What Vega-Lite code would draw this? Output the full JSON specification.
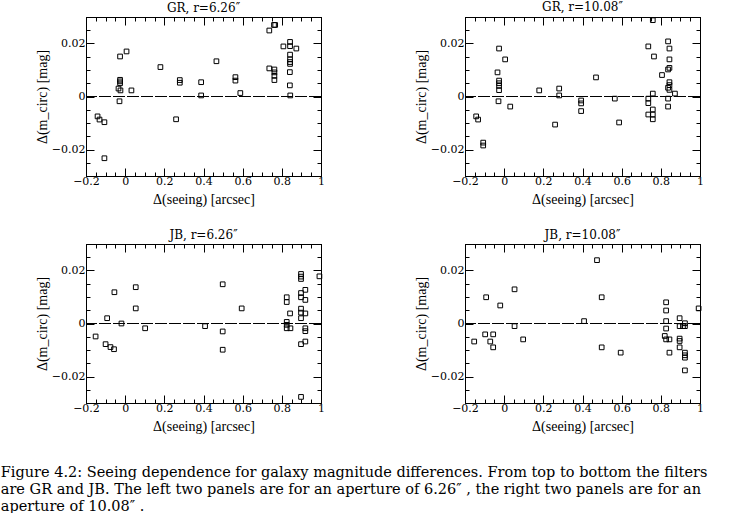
{
  "$schema": "https://vega.github.io/schema/vega-lite/v6.json",
  "padding": {"left": 0, "top": 0, "right": 0, "bottom": 0},
  "background": "white",
  "config": {
    "font": "DejaVu Serif",
    "view": {"stroke": "black", "strokeWidth": 1},
    "axis": {"grid": false, "domainColor": "black", "tickColor": "black", "labelColor": "black", "titleColor": "black", "labelFont": "DejaVu Serif", "labelFontSize": 11, "titleFont": "Liberation Serif", "titleFontSize": 14, "titleFontWeight": "normal"},
    "title": {"font": "DejaVu Serif", "fontSize": 12, "fontWeight": "normal", "color": "black", "offset": 2}
  },
  "datasets": {
    "pts": [
      {"p": "a", "x": -0.141, "y": -0.0075}, {"p": "a", "x": -0.131, "y": -0.0087}, {"p": "a", "x": -0.106, "y": -0.0097}, {"p": "a", "x": -0.106, "y": -0.0233},
      {"p": "a", "x": -0.026, "y": 0.0151}, {"p": "a", "x": 0.007, "y": 0.017}, {"p": "a", "x": -0.026, "y": 0.0063}, {"p": "a", "x": -0.026, "y": 0.0057}, {"p": "a", "x": -0.026, "y": 0.005},
      {"p": "a", "x": -0.034, "y": 0.003}, {"p": "a", "x": -0.024, "y": 0.0023}, {"p": "a", "x": 0.032, "y": 0.0023}, {"p": "a", "x": -0.029, "y": -0.0018},
      {"p": "a", "x": 0.18, "y": 0.0111}, {"p": "a", "x": 0.279, "y": 0.0062}, {"p": "a", "x": 0.279, "y": 0.0052}, {"p": "a", "x": 0.26, "y": -0.0086},
      {"p": "a", "x": 0.388, "y": 0.0054}, {"p": "a", "x": 0.388, "y": 0.0004}, {"p": "a", "x": 0.466, "y": 0.0133}, {"p": "a", "x": 0.563, "y": 0.0073}, {"p": "a", "x": 0.563, "y": 0.006},
      {"p": "a", "x": 0.588, "y": 0.0013}, {"p": "a", "x": 0.736, "y": 0.0249}, {"p": "a", "x": 0.76, "y": 0.027}, {"p": "a", "x": 0.766, "y": 0.027},
      {"p": "a", "x": 0.736, "y": 0.0106}, {"p": "a", "x": 0.762, "y": 0.0102}, {"p": "a", "x": 0.762, "y": 0.0091}, {"p": "a", "x": 0.762, "y": 0.0078}, {"p": "a", "x": 0.762, "y": 0.0062},
      {"p": "a", "x": 0.808, "y": 0.0189}, {"p": "a", "x": 0.842, "y": 0.0206}, {"p": "a", "x": 0.842, "y": 0.019}, {"p": "a", "x": 0.874, "y": 0.0181}, {"p": "a", "x": 0.842, "y": 0.0158},
      {"p": "a", "x": 0.842, "y": 0.014}, {"p": "a", "x": 0.842, "y": 0.013}, {"p": "a", "x": 0.842, "y": 0.0123}, {"p": "a", "x": 0.841, "y": 0.0092}, {"p": "a", "x": 0.841, "y": 0.0042}, {"p": "a", "x": 0.843, "y": 0.0004},

      {"p": "b", "x": -0.143, "y": -0.0075}, {"p": "b", "x": -0.133, "y": -0.0087}, {"p": "b", "x": -0.107, "y": -0.0174}, {"p": "b", "x": -0.107, "y": -0.0185},
      {"p": "b", "x": -0.026, "y": 0.0181}, {"p": "b", "x": 0.005, "y": 0.014}, {"p": "b", "x": -0.034, "y": 0.0091}, {"p": "b", "x": -0.026, "y": 0.006}, {"p": "b", "x": -0.026, "y": 0.005},
      {"p": "b", "x": -0.026, "y": 0.004}, {"p": "b", "x": -0.026, "y": 0.0024}, {"p": "b", "x": -0.029, "y": -0.0018}, {"p": "b", "x": 0.031, "y": -0.0038},
      {"p": "b", "x": 0.179, "y": 0.0023}, {"p": "b", "x": 0.281, "y": 0.003}, {"p": "b", "x": 0.281, "y": 0.0004}, {"p": "b", "x": 0.26, "y": -0.0106},
      {"p": "b", "x": 0.393, "y": -0.0015}, {"p": "b", "x": 0.393, "y": -0.0026}, {"p": "b", "x": 0.393, "y": -0.0055}, {"p": "b", "x": 0.469, "y": 0.0072},
      {"p": "b", "x": 0.565, "y": -0.0008}, {"p": "b", "x": 0.587, "y": -0.0098}, {"p": "b", "x": 0.736, "y": 0.0189}, {"p": "b", "x": 0.759, "y": 0.0288}, {"p": "b", "x": 0.765, "y": 0.0151},
      {"p": "b", "x": 0.759, "y": 0.0011}, {"p": "b", "x": 0.736, "y": -0.0008}, {"p": "b", "x": 0.736, "y": -0.0025}, {"p": "b", "x": 0.736, "y": -0.0068},
      {"p": "b", "x": 0.759, "y": -0.0049}, {"p": "b", "x": 0.759, "y": -0.0068}, {"p": "b", "x": 0.759, "y": -0.0086},
      {"p": "b", "x": 0.837, "y": 0.0208}, {"p": "b", "x": 0.844, "y": 0.0181}, {"p": "b", "x": 0.844, "y": 0.014}, {"p": "b", "x": 0.844, "y": 0.0108}, {"p": "b", "x": 0.837, "y": 0.0102},
      {"p": "b", "x": 0.806, "y": 0.0081}, {"p": "b", "x": 0.844, "y": 0.0054}, {"p": "b", "x": 0.844, "y": 0.0043}, {"p": "b", "x": 0.837, "y": 0.0033}, {"p": "b", "x": 0.844, "y": 0.0025},
      {"p": "b", "x": 0.837, "y": -0.0008}, {"p": "b", "x": 0.837, "y": -0.0038}, {"p": "b", "x": 0.872, "y": 0.0011},

      {"p": "c", "x": -0.151, "y": -0.0049}, {"p": "c", "x": -0.1, "y": -0.0078}, {"p": "c", "x": -0.075, "y": -0.0089}, {"p": "c", "x": -0.057, "y": -0.0097},
      {"p": "c", "x": -0.092, "y": 0.002}, {"p": "c", "x": -0.055, "y": 0.0118}, {"p": "c", "x": -0.019, "y": 0.0}, {"p": "c", "x": 0.054, "y": 0.0137}, {"p": "c", "x": 0.054, "y": 0.0057},
      {"p": "c", "x": 0.102, "y": -0.0018}, {"p": "c", "x": 0.408, "y": -0.001}, {"p": "c", "x": 0.498, "y": 0.0148}, {"p": "c", "x": 0.498, "y": -0.003}, {"p": "c", "x": 0.498, "y": -0.0099},
      {"p": "c", "x": 0.595, "y": 0.0057}, {"p": "c", "x": 0.825, "y": 0.0099}, {"p": "c", "x": 0.825, "y": 0.0081}, {"p": "c", "x": 0.842, "y": 0.0038},
      {"p": "c", "x": 0.825, "y": 0.0006}, {"p": "c", "x": 0.825, "y": -0.0005}, {"p": "c", "x": 0.825, "y": -0.0018}, {"p": "c", "x": 0.844, "y": -0.0018},
      {"p": "c", "x": 0.898, "y": 0.0187}, {"p": "c", "x": 0.898, "y": 0.0177}, {"p": "c", "x": 0.898, "y": 0.0168}, {"p": "c", "x": 0.992, "y": 0.0178},
      {"p": "c", "x": 0.92, "y": 0.0127}, {"p": "c", "x": 0.898, "y": 0.0115}, {"p": "c", "x": 0.898, "y": 0.0099}, {"p": "c", "x": 0.92, "y": 0.0089},
      {"p": "c", "x": 0.898, "y": 0.0056}, {"p": "c", "x": 0.898, "y": 0.0041}, {"p": "c", "x": 0.898, "y": 0.002}, {"p": "c", "x": 0.92, "y": 0.0038},
      {"p": "c", "x": 0.92, "y": -0.0018}, {"p": "c", "x": 0.92, "y": -0.0029}, {"p": "c", "x": 0.92, "y": -0.0068}, {"p": "c", "x": 0.898, "y": -0.0078}, {"p": "c", "x": 0.898, "y": -0.0277},

      {"p": "d", "x": 0.474, "y": 0.0239}, {"p": "d", "x": 0.053, "y": 0.0129}, {"p": "d", "x": -0.092, "y": 0.0099}, {"p": "d", "x": 0.498, "y": 0.0099}, {"p": "d", "x": -0.02, "y": 0.0068},
      {"p": "d", "x": 0.053, "y": -0.001}, {"p": "d", "x": 0.097, "y": -0.006}, {"p": "d", "x": 0.408, "y": 0.0009}, {"p": "d", "x": 0.498, "y": -0.009}, {"p": "d", "x": 0.595, "y": -0.011},
      {"p": "d", "x": -0.153, "y": -0.0068}, {"p": "d", "x": -0.097, "y": -0.0041}, {"p": "d", "x": -0.056, "y": -0.0041}, {"p": "d", "x": -0.071, "y": -0.0068}, {"p": "d", "x": -0.056, "y": -0.009},
      {"p": "d", "x": 0.827, "y": 0.008}, {"p": "d", "x": 0.827, "y": 0.0049}, {"p": "d", "x": 0.827, "y": 0.0009}, {"p": "d", "x": 0.827, "y": -0.0019}, {"p": "d", "x": 0.82, "y": -0.0047},
      {"p": "d", "x": 0.827, "y": -0.006}, {"p": "d", "x": 0.844, "y": -0.006}, {"p": "d", "x": 0.844, "y": -0.011},
      {"p": "d", "x": 0.896, "y": 0.002}, {"p": "d", "x": 0.896, "y": -0.001}, {"p": "d", "x": 0.913, "y": -0.001}, {"p": "d", "x": 0.923, "y": 0.0001}, {"p": "d", "x": 0.923, "y": -0.001},
      {"p": "d", "x": 0.896, "y": -0.0057}, {"p": "d", "x": 0.896, "y": -0.0066}, {"p": "d", "x": 0.896, "y": -0.009},
      {"p": "d", "x": 0.923, "y": -0.011}, {"p": "d", "x": 0.923, "y": -0.012}, {"p": "d", "x": 0.923, "y": -0.0129}, {"p": "d", "x": 0.923, "y": -0.0177}, {"p": "d", "x": 0.993, "y": 0.0057}
    ]
  },
  "title": {
    "text": [
      "Figure 4.2: Seeing dependence for galaxy magnitude differences. From top to bottom the filters",
      "are GR and JB. The left two panels are for an aperture of 6.26″ , the right two panels are for an",
      "aperture of 10.08″ ."
    ],
    "orient": "bottom", "anchor": "start", "font": "DejaVu Serif", "fontSize": 14.5, "lineHeight": 17, "offset": 32, "dx": -34, "frame": "bounds"
  },
  "columns": 2,
  "spacing": {"column": 144, "row": 68},
  "bounds": "flush",
  "concat": [
    {
      "title": "GR, r=6.26″",
      "width": 235, "height": 159,
      "data": {"name": "pts"},
      "transform": [{"filter": "datum.p == 'a'"}],
      "layer": [
        {"mark": {"type": "rule", "color": "black", "strokeDash": [12, 2], "strokeWidth": 1},
         "encoding": {"y": {"datum": 0, "type": "quantitative", "scale": {"domain": [-0.03, 0.03], "nice": false}, "axis": null}}},
        {"mark": {"type": "point", "shape": "square", "filled": false, "color": "black", "opacity": 1, "size": 22, "strokeWidth": 1},
         "encoding": {
           "x": {"field": "x", "type": "quantitative", "scale": {"domain": [-0.2, 1], "nice": false, "zero": false},
                 "axis": {"orient": "bottom", "title": "Δ(seeing) [arcsec]", "values": [-0.2,-0.15,-0.1,-0.05,0,0.05,0.1,0.15,0.2,0.25,0.3,0.35,0.4,0.45,0.5,0.55,0.6,0.65,0.7,0.75,0.8,0.85,0.9,0.95,1], "labelExpr": "round(datum.value*100) % 20 == 0 ? format(datum.value, '.1~f') : ''", "tickSize": {"condition": {"test": "round(datum.value*100) % 20 == 0", "value": -8}, "value": -4}, "labelPadding": 7, "labelFlush": false, "titlePadding": 6}},
           "y": {"field": "y", "type": "quantitative", "scale": {"domain": [-0.03, 0.03], "nice": false},
                 "axis": {"orient": "left", "title": "Δ(m_circ) [mag]", "values": [-0.03,-0.025,-0.02,-0.015,-0.01,-0.005,0,0.005,0.01,0.015,0.02,0.025,0.03], "labelExpr": "round(datum.value*1000) % 20 == 0 ? format(datum.value, '.2~f') : ''", "tickSize": {"condition": {"test": "round(datum.value*1000) % 20 == 0", "value": -8}, "value": -4}, "labelPadding": 9, "titlePadding": 2}}
         }},
        {"mark": {"type": "point", "opacity": 0},
         "encoding": {
           "x": {"field": "x", "type": "quantitative", "axis": {"orient": "top", "labels": false, "title": null, "values": [-0.2,-0.15,-0.1,-0.05,0,0.05,0.1,0.15,0.2,0.25,0.3,0.35,0.4,0.45,0.5,0.55,0.6,0.65,0.7,0.75,0.8,0.85,0.9,0.95,1], "tickSize": {"condition": {"test": "round(datum.value*100) % 20 == 0", "value": -8}, "value": -4}}},
           "y": {"field": "y", "type": "quantitative", "axis": {"orient": "right", "labels": false, "title": null, "values": [-0.03,-0.025,-0.02,-0.015,-0.01,-0.005,0,0.005,0.01,0.015,0.02,0.025,0.03], "tickSize": {"condition": {"test": "round(datum.value*1000) % 20 == 0", "value": -8}, "value": -4}}}
         }}
      ],
      "resolve": {"axis": {"x": "independent", "y": "independent"}}
    },
    {
      "title": "GR, r=10.08″",
      "width": 235, "height": 159,
      "data": {"name": "pts"},
      "transform": [{"filter": "datum.p == 'b'"}],
      "layer": [
        {"mark": {"type": "rule", "color": "black", "strokeDash": [12, 2], "strokeWidth": 1},
         "encoding": {"y": {"datum": 0, "type": "quantitative", "scale": {"domain": [-0.03, 0.03], "nice": false}, "axis": null}}},
        {"mark": {"type": "point", "shape": "square", "filled": false, "color": "black", "opacity": 1, "size": 22, "strokeWidth": 1},
         "encoding": {
           "x": {"field": "x", "type": "quantitative", "scale": {"domain": [-0.2, 1], "nice": false, "zero": false},
                 "axis": {"orient": "bottom", "title": "Δ(seeing) [arcsec]", "values": [-0.2,-0.15,-0.1,-0.05,0,0.05,0.1,0.15,0.2,0.25,0.3,0.35,0.4,0.45,0.5,0.55,0.6,0.65,0.7,0.75,0.8,0.85,0.9,0.95,1], "labelExpr": "round(datum.value*100) % 20 == 0 ? format(datum.value, '.1~f') : ''", "tickSize": {"condition": {"test": "round(datum.value*100) % 20 == 0", "value": -8}, "value": -4}, "labelPadding": 7, "labelFlush": false, "titlePadding": 6}},
           "y": {"field": "y", "type": "quantitative", "scale": {"domain": [-0.03, 0.03], "nice": false},
                 "axis": {"orient": "left", "title": "Δ(m_circ) [mag]", "values": [-0.03,-0.025,-0.02,-0.015,-0.01,-0.005,0,0.005,0.01,0.015,0.02,0.025,0.03], "labelExpr": "round(datum.value*1000) % 20 == 0 ? format(datum.value, '.2~f') : ''", "tickSize": {"condition": {"test": "round(datum.value*1000) % 20 == 0", "value": -8}, "value": -4}, "labelPadding": 9, "titlePadding": 2}}
         }},
        {"mark": {"type": "point", "opacity": 0},
         "encoding": {
           "x": {"field": "x", "type": "quantitative", "axis": {"orient": "top", "labels": false, "title": null, "values": [-0.2,-0.15,-0.1,-0.05,0,0.05,0.1,0.15,0.2,0.25,0.3,0.35,0.4,0.45,0.5,0.55,0.6,0.65,0.7,0.75,0.8,0.85,0.9,0.95,1], "tickSize": {"condition": {"test": "round(datum.value*100) % 20 == 0", "value": -8}, "value": -4}}},
           "y": {"field": "y", "type": "quantitative", "axis": {"orient": "right", "labels": false, "title": null, "values": [-0.03,-0.025,-0.02,-0.015,-0.01,-0.005,0,0.005,0.01,0.015,0.02,0.025,0.03], "tickSize": {"condition": {"test": "round(datum.value*1000) % 20 == 0", "value": -8}, "value": -4}}}
         }}
      ],
      "resolve": {"axis": {"x": "independent", "y": "independent"}}
    },
    {
      "title": "JB, r=6.26″",
      "width": 235, "height": 159,
      "data": {"name": "pts"},
      "transform": [{"filter": "datum.p == 'c'"}],
      "layer": [
        {"mark": {"type": "rule", "color": "black", "strokeDash": [12, 2], "strokeWidth": 1},
         "encoding": {"y": {"datum": 0, "type": "quantitative", "scale": {"domain": [-0.03, 0.03], "nice": false}, "axis": null}}},
        {"mark": {"type": "point", "shape": "square", "filled": false, "color": "black", "opacity": 1, "size": 22, "strokeWidth": 1},
         "encoding": {
           "x": {"field": "x", "type": "quantitative", "scale": {"domain": [-0.2, 1], "nice": false, "zero": false},
                 "axis": {"orient": "bottom", "title": "Δ(seeing) [arcsec]", "values": [-0.2,-0.15,-0.1,-0.05,0,0.05,0.1,0.15,0.2,0.25,0.3,0.35,0.4,0.45,0.5,0.55,0.6,0.65,0.7,0.75,0.8,0.85,0.9,0.95,1], "labelExpr": "round(datum.value*100) % 20 == 0 ? format(datum.value, '.1~f') : ''", "tickSize": {"condition": {"test": "round(datum.value*100) % 20 == 0", "value": -8}, "value": -4}, "labelPadding": 7, "labelFlush": false, "titlePadding": 6}},
           "y": {"field": "y", "type": "quantitative", "scale": {"domain": [-0.03, 0.03], "nice": false},
                 "axis": {"orient": "left", "title": "Δ(m_circ) [mag]", "values": [-0.03,-0.025,-0.02,-0.015,-0.01,-0.005,0,0.005,0.01,0.015,0.02,0.025,0.03], "labelExpr": "round(datum.value*1000) % 20 == 0 ? format(datum.value, '.2~f') : ''", "tickSize": {"condition": {"test": "round(datum.value*1000) % 20 == 0", "value": -8}, "value": -4}, "labelPadding": 9, "titlePadding": 2}}
         }},
        {"mark": {"type": "point", "opacity": 0},
         "encoding": {
           "x": {"field": "x", "type": "quantitative", "axis": {"orient": "top", "labels": false, "title": null, "values": [-0.2,-0.15,-0.1,-0.05,0,0.05,0.1,0.15,0.2,0.25,0.3,0.35,0.4,0.45,0.5,0.55,0.6,0.65,0.7,0.75,0.8,0.85,0.9,0.95,1], "tickSize": {"condition": {"test": "round(datum.value*100) % 20 == 0", "value": -8}, "value": -4}}},
           "y": {"field": "y", "type": "quantitative", "axis": {"orient": "right", "labels": false, "title": null, "values": [-0.03,-0.025,-0.02,-0.015,-0.01,-0.005,0,0.005,0.01,0.015,0.02,0.025,0.03], "tickSize": {"condition": {"test": "round(datum.value*1000) % 20 == 0", "value": -8}, "value": -4}}}
         }}
      ],
      "resolve": {"axis": {"x": "independent", "y": "independent"}}
    },
    {
      "title": "JB, r=10.08″",
      "width": 235, "height": 159,
      "data": {"name": "pts"},
      "transform": [{"filter": "datum.p == 'd'"}],
      "layer": [
        {"mark": {"type": "rule", "color": "black", "strokeDash": [12, 2], "strokeWidth": 1},
         "encoding": {"y": {"datum": 0, "type": "quantitative", "scale": {"domain": [-0.03, 0.03], "nice": false}, "axis": null}}},
        {"mark": {"type": "point", "shape": "square", "filled": false, "color": "black", "opacity": 1, "size": 22, "strokeWidth": 1},
         "encoding": {
           "x": {"field": "x", "type": "quantitative", "scale": {"domain": [-0.2, 1], "nice": false, "zero": false},
                 "axis": {"orient": "bottom", "title": "Δ(seeing) [arcsec]", "values": [-0.2,-0.15,-0.1,-0.05,0,0.05,0.1,0.15,0.2,0.25,0.3,0.35,0.4,0.45,0.5,0.55,0.6,0.65,0.7,0.75,0.8,0.85,0.9,0.95,1], "labelExpr": "round(datum.value*100) % 20 == 0 ? format(datum.value, '.1~f') : ''", "tickSize": {"condition": {"test": "round(datum.value*100) % 20 == 0", "value": -8}, "value": -4}, "labelPadding": 7, "labelFlush": false, "titlePadding": 6}},
           "y": {"field": "y", "type": "quantitative", "scale": {"domain": [-0.03, 0.03], "nice": false},
                 "axis": {"orient": "left", "title": "Δ(m_circ) [mag]", "values": [-0.03,-0.025,-0.02,-0.015,-0.01,-0.005,0,0.005,0.01,0.015,0.02,0.025,0.03], "labelExpr": "round(datum.value*1000) % 20 == 0 ? format(datum.value, '.2~f') : ''", "tickSize": {"condition": {"test": "round(datum.value*1000) % 20 == 0", "value": -8}, "value": -4}, "labelPadding": 9, "titlePadding": 2}}
         }},
        {"mark": {"type": "point", "opacity": 0},
         "encoding": {
           "x": {"field": "x", "type": "quantitative", "axis": {"orient": "top", "labels": false, "title": null, "values": [-0.2,-0.15,-0.1,-0.05,0,0.05,0.1,0.15,0.2,0.25,0.3,0.35,0.4,0.45,0.5,0.55,0.6,0.65,0.7,0.75,0.8,0.85,0.9,0.95,1], "tickSize": {"condition": {"test": "round(datum.value*100) % 20 == 0", "value": -8}, "value": -4}}},
           "y": {"field": "y", "type": "quantitative", "axis": {"orient": "right", "labels": false, "title": null, "values": [-0.03,-0.025,-0.02,-0.015,-0.01,-0.005,0,0.005,0.01,0.015,0.02,0.025,0.03], "tickSize": {"condition": {"test": "round(datum.value*1000) % 20 == 0", "value": -8}, "value": -4}}}
         }}
      ],
      "resolve": {"axis": {"x": "independent", "y": "independent"}}
    }
  ]
}
